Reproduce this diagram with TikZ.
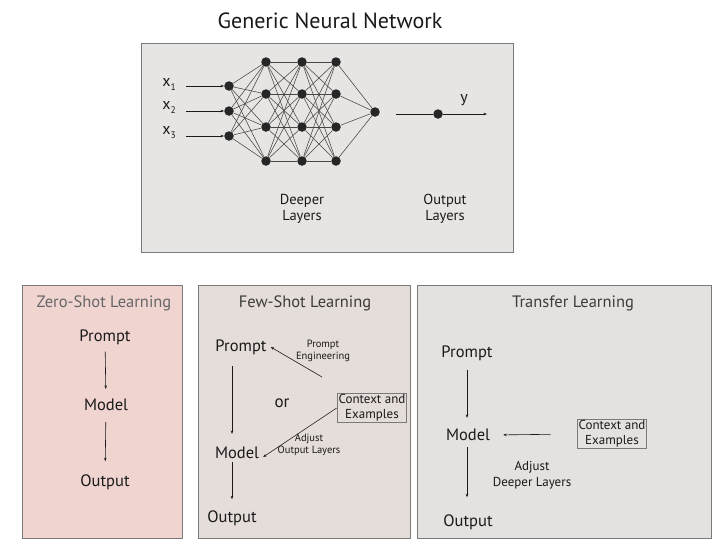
\documentclass[tikz,border=0pt]{standalone}
\usepackage{fontspec}
\setmainfont{PT Sans}
\usetikzlibrary{arrows.meta}
\definecolor{topfill}{HTML}{E6E5E3}
\definecolor{pinkfill}{HTML}{EFD4D0}
\definecolor{fewfill}{HTML}{E4DDD9}
\definecolor{transfill}{HTML}{E4E2DE}
\definecolor{framegray}{HTML}{7A7A7A}
\definecolor{inkc}{HTML}{1A1A1A}
\definecolor{edgec}{HTML}{4A4444}
\definecolor{titlegray}{HTML}{666666}
\begin{document}
\begin{tikzpicture}[x=1pt,y=-1pt,
  panel/.style={draw=framegray, line width=0.8pt},
  neuron/.style={circle, fill=black!85, inner sep=0pt, minimum size=9.5pt},
  wire/.style={draw=edgec, line width=0.55pt},
  arr/.style={draw=inkc, line width=0.6pt, -{Stealth[length=3.5pt,width=2.6pt]}},
  lbl/.style={text=inkc, font=\fontsize{16.5}{19}\selectfont, inner sep=1pt},
  sml/.style={text=inkc, font=\fontsize{11}{13}\selectfont, align=center, inner sep=1pt},
  tiny/.style={text=inkc, font=\fontsize{10.5}{12}\selectfont, align=center, inner sep=1pt},
  ptitle/.style={font=\fontsize{16.5}{19}\selectfont, inner sep=1pt},
  cbox/.style={draw=framegray, line width=0.9pt, text=inkc, font=\fontsize{13}{15}\selectfont, align=center, inner sep=1.5pt}
]
\fill[white] (0,0) rectangle (720,547);
\useasboundingbox (0,0) rectangle (720,547);

% ---------- top panel ----------
\node[text=inkc, font=\fontsize{22}{25}\selectfont] (title) at (330,21) {Generic Neural Network};
\filldraw[panel, fill=topfill] (141,43) rectangle (513,252);

\foreach \i/\yy in {1/86,2/111,3/136} {
  \node[neuron] (a\i) at (229,\yy) {};
}
\foreach \i/\yy in {1/62,2/94,3/127,4/161} {
  \node[neuron] (b\i) at (266,\yy) {};
  \node[neuron] (c\i) at (302,\yy) {};
  \node[neuron] (d\i) at (336,\yy) {};
}
\node[neuron] (o) at (375,112) {};
\node[neuron] (yn) at (438,114) {};

\foreach \i in {1,2,3} \foreach \j in {1,2,3,4} \draw[wire] (a\i) -- (b\j);
\foreach \i in {1,2,3,4} \foreach \j in {1,2,3,4} {
  \draw[wire] (b\i) -- (c\j);
  \draw[wire] (c\i) -- (d\j);
}
\foreach \i in {1,2,3,4} \draw[wire] (d\i) -- (o);

\foreach \i/\yy in {1/84,2/107,3/133} {
  \node[text=inkc, font=\fontsize{16}{18}\selectfont, inner sep=1pt] (x\i) at (169,\yy) {x\raisebox{-4pt}{\fontsize{9.5}{10}\selectfont\i}};
}
\draw[arr] ([xshift=9pt]x1.east |- a1) -- (a1);
\draw[arr] ([xshift=9pt]x2.east |- a2) -- (a2);
\draw[arr] ([xshift=9pt]x3.east |- a3) -- (a3);

\draw[draw=inkc, line width=0.6pt, shorten <=16pt] (o.east |- yn) -- (yn);
\coordinate (yend) at (487,114);
\draw[arr] (yn) -- (yend);
\node[text=inkc, font=\fontsize{16}{18}\selectfont] (ylab) at (464,100) {y};

\node[sml, font=\fontsize{14.5}{16.5}\selectfont] (deep) at (302,209) {Deeper\\Layers};
\node[sml, font=\fontsize{14.5}{16.5}\selectfont] (outl) at (445,209) {Output\\Layers};

% ---------- zero-shot ----------
\filldraw[panel, fill=pinkfill] (22,285) rectangle (182,538);
\node[ptitle, text=titlegray] (zt) at (104,303) {Zero-Shot Learning};
\node[lbl] (zp) at (105,337) {Prompt};
\node[lbl] (zm) at (106,405) {Model};
\node[lbl] (zo) at (105,482) {Output};
\draw[arr, shorten <=6pt, shorten >=9pt] (zp) -- (zm);
\draw[arr, shorten <=10pt, shorten >=12pt] (zm) -- (zo);

% ---------- few-shot ----------
\filldraw[panel, fill=fewfill] (198,285) rectangle (410,538);
\node[ptitle, text=inkc!85] (ft) at (305,303) {Few-Shot Learning};
\node[lbl] (fp) at (241,347) {Prompt};
\node[lbl] (fm) at (237,453) {Model};
\node[lbl] (fo) at (232,518) {Output};
\node[lbl, font=\fontsize{17}{19}\selectfont] (for) at (282,403) {or};
\node[cbox] (fc) at (372,408) {Context and\\Examples};
\draw[arr, shorten <=10pt, shorten >=12pt] ([xshift=-9pt]fp.south) -- ([xshift=-5pt]fm.north);
\draw[arr, shorten <=2pt, shorten >=10pt] ([xshift=-5pt]fm.south) -- (fo.north);
\coordinate (pe) at (322,377);
\draw[arr] (pe) -- ([xshift=3pt]fp.east);
\node[tiny] (pel) at (323,351) {Prompt\\Engineering};
\draw[arr] (fc.west) -- ([xshift=3pt,yshift=-4pt]fm.east);
\node[tiny] (aol) at (309,445) {Adjust\\Output Layers};

% ---------- transfer ----------
\filldraw[panel, fill=transfill] (417,285) rectangle (711,538);
\node[ptitle, text=inkc!85] (tt) at (573,303) {Transfer Learning};
\node[lbl] (tp) at (467,353) {Prompt};
\node[lbl] (tm) at (468,435) {Model};
\node[lbl] (to) at (468,522) {Output};
\node[cbox] (tc) at (612,434) {Context and\\Examples};
\draw[arr, shorten <=8pt, shorten >=10pt] (tp) -- (tp |- tm.north);
\draw[arr, shorten <=5pt, shorten >=16pt] (tm.south -| tp) -- (tp |- to.north);
\draw[arr, shorten <=26pt, shorten >=12pt] (tc.west) -- (tm.east);
\node[sml, font=\fontsize{13}{16}\selectfont] (adl) at (532,475) {Adjust\\Deeper Layers};
\end{tikzpicture}
\end{document}
